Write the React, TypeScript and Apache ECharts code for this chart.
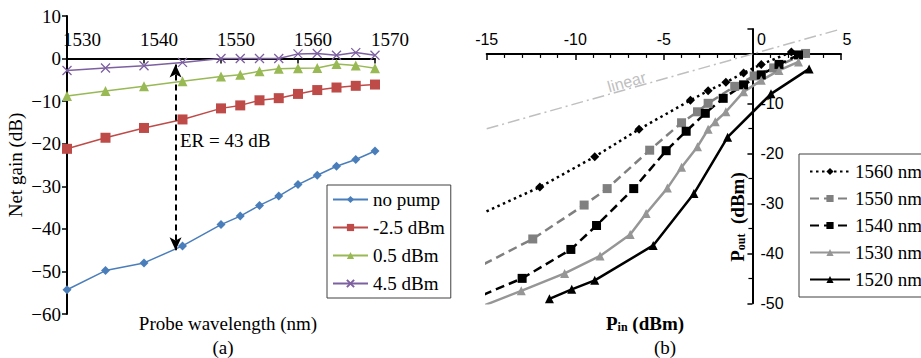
import React, { useEffect, useRef } from 'react';
import * as echarts from 'echarts';

// ---- Panel (a): net gain vs probe wavelength ----
const wavelengths = [1530, 1535, 1540, 1545, 1550, 1552.5, 1555, 1557.5, 1560, 1562.5, 1565, 1567.5, 1570];
const gainNoPump = [-54.3, -49.8, -48.0, -44.0, -39.0, -37.0, -34.5, -32.3, -29.6, -27.4, -25.3, -23.7, -21.7];
const gainM25 = [-21.2, -18.6, -16.3, -14.3, -11.7, -11.0, -9.8, -9.3, -8.3, -7.4, -6.8, -6.4, -6.1];
const gain05 = [-8.8, -7.6, -6.5, -5.3, -4.2, -3.8, -3.0, -2.4, -2.3, -2.2, -1.3, -1.6, -2.3];
const gain45 = [-2.8, -2.2, -1.7, -0.9, 0, 0, 0, 0, 1.1, 1.2, 0.8, 1.4, 0.8];
const legendA = ['no pump', '-2.5 dBm', '0.5 dBm', '4.5 dBm'];
const erWavelength = 1544.1;
const erTop = -1.4;
const erBottom = -45.0;

// ---- Panel (b): Pout vs Pin ----
const pin1560 = [2.2, 0.5, -0.5, -1.5, -2.5, -3.5, -6.4, -8.9, -12.0, -17.0];
const pout1560 = [0.4, -2.1, -3.8, -5.7, -7.4, -9.3, -15.1, -20.6, -26.7, -34.8];
const pin1550 = [3.0, 1.2, 0.1, -1.0, -2.5, -3.1, -4.0, -5.8, -8.2, -9.5, -12.4, -17.0];
const pout1550 = [0.1, -2.8, -4.4, -6.5, -9.9, -11.6, -13.8, -19.3, -27.0, -30.3, -37.1, -45.5];
const pin1540 = [2.6, 1.5, 0.5, -0.5, -1.65, -2.66, -3.74, -4.87, -6.7, -8.8, -10.25, -13.0, -17.0];
const pout1540 = [-0.2, -2.1, -4.2, -6.2, -8.9, -11.9, -15.5, -19.4, -27.0, -34.4, -39.2, -45.0, -51.0];
const pin1530 = [2.6, 1.5, 0.5, -0.5, -1.5, -2.1, -2.5, -3.1, -4.0, -4.8, -6.0, -6.9, -8.6, -10.6, -13.05, -17.0];
const pout1530 = [-1.6, -3.3, -5.3, -7.6, -11.6, -13.6, -15.1, -18.6, -22.7, -26.9, -32.0, -36.2, -40.5, -44.0, -47.5, -53.0];
const pin1520 = [3.2, 1.05, -1.4, -3.3, -5.6, -8.9, -10.2, -11.46];
const pout1520 = [-3.0, -8.0, -16.7, -28.0, -38.4, -45.4, -47.2, -49.1];
const pinLinear = [-15, 4.8];
const poutLinear = [-15, 4.8];
const legendB = ['1560 nm', '1550 nm', '1540 nm', '1530 nm', '1520 nm'];

const serif = 'Liberation Serif';
const sans = 'Liberation Sans';
const FS = 19;

const zip = (xs: number[], ys: number[]) => xs.map((x, i) => [x, ys[i]]);

// grid geometry (pixels)
const gA = { left: 67, top: 16, width: 308, height: 298 };
const gB = { left: 486.7, top: 29, width: 354.3, height: 274.3 };

export default function App() {
  const ref = useRef<HTMLDivElement>(null);
  useEffect(() => {
    document.body.style.margin = '0';
    if (!ref.current) return;
    const chart = echarts.init(ref.current, null, { renderer: 'svg' });
    const axisLineStyle = { color: '#000', width: 2 };
    const blue = '#4A7EBB', red = '#BE4B48', green = '#98B954', purple = '#7D60A0';
    const gray = '#808080';

    const aXZeroOffset = -(gA.height * (10 - 0)) / 70;
    const bXZeroOffset = -(gB.height * (5 - 0)) / 55;
    const bYZeroOffset = -(gB.width * (0 - -15)) / 20;

    const lineA = (name: string, data: number[], color: string, symbol: string, size: number, extra: any = {}) => ({
      type: 'line', name, xAxisIndex: 0, yAxisIndex: 0,
      data: zip(wavelengths, data), symbol, symbolSize: size,
      lineStyle: { color, width: 1.5 },
      itemStyle: { color, borderColor: color, borderWidth: symbol.startsWith('path') ? 1.3 : 0 },
      ...extra,
    });
    const lineB = (name: string, xs: number[], ys: number[], color: string, type: any, symbol: string, size: number) => ({
      type: 'line', name, xAxisIndex: 1, yAxisIndex: 1, clip: true,
      data: zip(xs, ys), symbol, symbolSize: size,
      lineStyle: { color, width: 2.5, type },
      itemStyle: { color },
    });

    const serifLabel = { color: '#000', fontFamily: serif, fontSize: FS };
    const sansLabel = { color: '#000', fontFamily: sans, fontSize: 16 };

    const option: any = {
      animation: false,
      backgroundColor: '#fff',
      textStyle: { fontFamily: serif },
      grid: [
        { ...gA, outerBoundsMode: 'none', containLabel: false },
        { ...gB, outerBoundsMode: 'none', containLabel: false },
      ],
      xAxis: [
        {
          type: 'value', gridIndex: 0, min: 1530, max: 1570, interval: 10, position: 'top', offset: aXZeroOffset,
          axisLine: { onZero: false, lineStyle: axisLineStyle },
          axisTick: { inside: true, length: 5, lineStyle: { color: '#000', width: 1.5 } },
          axisLabel: {
            ...serifLabel, margin: 10, align: 'center',
            formatter: (v: number) => `{t|${v}}`,
            rich: { t: { ...serifLabel, padding: [0, 0, 0, 30] } },
          },
          splitLine: { show: false },
        },
        {
          type: 'value', gridIndex: 1, min: -15, max: 5, interval: 5, position: 'top', offset: bXZeroOffset,
          axisLine: { onZero: false, lineStyle: axisLineStyle },
          axisTick: { inside: true, length: 6, lineStyle: { color: '#000', width: 1.5 } },
          minorTick: { show: true, splitNumber: 5, length: 4, lineStyle: { color: '#000', width: 1.2 } },
          axisLabel: {
            ...sansLabel, margin: 6,
            formatter: (v: number) => (v === 0 ? '{o|0}' : v === 5 ? '{f|5}' : `{n|${v}}`),
            rich: {
              n: { ...sansLabel },
              o: { ...sansLabel, padding: [0, 0, 0, 18] },
              f: { ...sansLabel, padding: [0, 0, 0, 12] },
            },
          },
          splitLine: { show: false },
        },
      ],
      yAxis: [
        {
          type: 'value', gridIndex: 0, min: -60, max: 10, interval: 10,
          axisLine: { show: true, onZero: false, lineStyle: axisLineStyle },
          axisTick: { show: true, length: 5, lineStyle: { color: '#000', width: 1.5 } },
          axisLabel: {
            ...serifLabel, margin: 6,
            formatter: (v: number) => `{t|${String(v).replace('-', '\u2212')}}`,
            rich: { t: { ...serifLabel } },
          },
          splitLine: { show: false },
          name: '{n|Net gain (dB)}', nameLocation: 'middle', nameGap: 42,
          nameTextStyle: { ...serifLabel, rich: { n: { ...serifLabel } } },
        },
        {
          type: 'value', gridIndex: 1, min: -50, max: 5, interval: 10, position: 'left', offset: bYZeroOffset,
          axisLine: { show: true, onZero: false, lineStyle: axisLineStyle },
          axisTick: { show: true, length: 5, lineStyle: { color: '#000', width: 1.5 } },
          minorTick: { show: true, splitNumber: 2, length: 4, lineStyle: { color: '#000', width: 1.2 } },
          axisLabel: {
            ...sansLabel, inside: true, margin: 8,
            formatter: (v: number) => (v >= 0 ? '' : `{n|${v}}`),
            rich: { n: { ...sansLabel } },
          },
          splitLine: { show: false },
        },
      ],
      legend: [
        {
          data: legendA, orient: 'vertical', left: 327, top: 185,
          itemWidth: 35, itemHeight: 9, itemGap: 9, padding: [5, 6, 5, 5],
          borderColor: '#404040', borderWidth: 1, backgroundColor: '#fff',
          textStyle: { ...serifLabel },
        },
        {
          data: legendB, orient: 'vertical', left: 799, top: 154,
          itemWidth: 40, itemHeight: 9, itemGap: 8, padding: [8, 8, 8, 10],
          borderColor: '#404040', borderWidth: 1, backgroundColor: '#fff',
          textStyle: { ...serifLabel },
        },
      ],
      series: [
        lineA('no pump', gainNoPump, blue, 'diamond', 9, {
          markLine: {
            silent: true, symbol: ['arrow', 'arrow'], symbolSize: [9, 13],
            lineStyle: { color: '#000', type: [6, 4], width: 2 },
            label: { show: false },
            data: [[{ coord: [erWavelength, erTop] }, { coord: [erWavelength, erBottom] }]],
          },
        }),
        lineA('-2.5 dBm', gainM25, red, 'rect', 10),
        lineA('0.5 dBm', gain05, green, 'triangle', 10),
        lineA('4.5 dBm', gain45, purple, 'path://M0,0L10,10M0,10L10,0', 9),
        {
          type: 'line', name: 'linear', xAxisIndex: 1, yAxisIndex: 1, data: zip(pinLinear, poutLinear),
          symbol: 'none', lineStyle: { color: '#BFBFBF', width: 1.5, type: [12, 4, 2, 4] },
        },
        lineB('1560 nm', pin1560, pout1560, '#000', [2.5, 3.5], 'diamond', 9),
        lineB('1550 nm', pin1550, pout1550, gray, [9, 5], 'rect', 9),
        lineB('1540 nm', pin1540, pout1540, '#000', [9, 5], 'rect', 9),
        lineB('1530 nm', pin1530, pout1530, '#969696', 'solid', 'triangle', 9),
        lineB('1520 nm', pin1520, pout1520, '#000', 'solid', 'triangle', 9),
      ],
      graphic: [
        { type: 'text', x: 180, y: 140, style: { text: 'ER = 43 dB', font: `${FS}px ${serif}`, fill: '#000', verticalAlign: 'middle' } },
        { type: 'text', x: 228, y: 323, style: { text: 'Probe wavelength (nm)', font: `${FS}px ${serif}`, fill: '#000', align: 'center', verticalAlign: 'middle' } },
        { type: 'text', x: 223, y: 347, style: { text: '(a)', font: `${FS}px ${serif}`, fill: '#000', align: 'center', verticalAlign: 'middle' } },
        { type: 'text', x: 665, y: 347, style: { text: '(b)', font: `${FS}px ${serif}`, fill: '#000', align: 'center', verticalAlign: 'middle' } },
        {
          type: 'text', x: 645, y: 323,
          style: {
            text: '{b|P}{s|in}{b| (dBm)}', align: 'center', verticalAlign: 'middle',
            rich: {
              b: { fontFamily: serif, fontSize: FS, fontWeight: 'bold', fill: '#000', color: '#000' },
              s: { fontFamily: serif, fontSize: 12, fontWeight: 'bold', fill: '#000', color: '#000', padding: [8, 0, 0, 0] },
            },
          },
        },
        {
          type: 'text', x: 737, y: 217, rotation: Math.PI / 2,
          style: {
            text: '{b|P}{s|out}{b|  (dBm)}', align: 'center', verticalAlign: 'middle',
            rich: {
              b: { fontFamily: serif, fontSize: FS, fontWeight: 'bold', fill: '#000', color: '#000' },
              s: { fontFamily: serif, fontSize: 12, fontWeight: 'bold', fill: '#000', color: '#000', padding: [8, 0, 0, 0] },
            },
          },
        },
        {
          type: 'text', x: 626.7, y: 82, rotation: 0.274,
          style: { text: 'linear', font: `16px ${sans}`, fill: '#BFBFBF', align: 'center', verticalAlign: 'middle' },
        },
      ],
    };
    chart.setOption(option);
    return () => chart.dispose();
  }, []);
  return <div ref={ref} style={{ width: 921, height: 358 }} />;
}
